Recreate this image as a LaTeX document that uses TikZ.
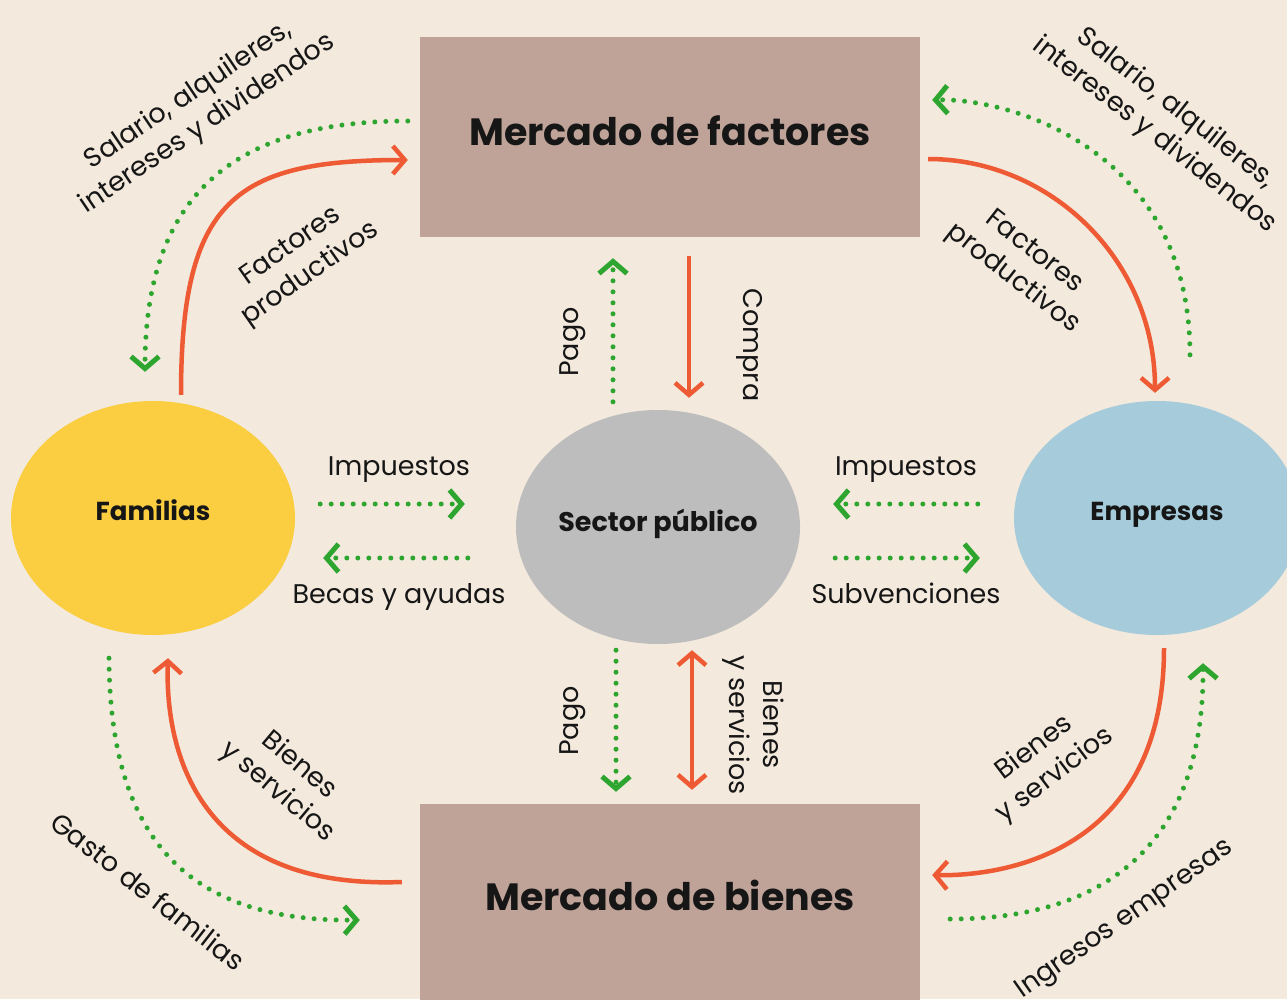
\documentclass[tikz,border=0pt]{standalone}
\usepackage{fontspec}
\setmainfont{Poppins}
\usetikzlibrary{arrows.meta,shapes.geometric,calc}

\definecolor{fondo}{HTML}{F3E9DD}
\definecolor{caja}{HTML}{BFA398}
\definecolor{amarillo}{HTML}{FACE40}
\definecolor{gris}{HTML}{BDBDBD}
\definecolor{azul}{HTML}{A6CBDA}
\definecolor{naranja}{HTML}{EE5A34}
\definecolor{verde}{HTML}{2EA52E}
\definecolor{tinta}{HTML}{161616}

\tikzset{
  mercado/.style={rectangle, fill=caja, minimum width=500pt, minimum height=200pt, inner sep=0pt,
                  text=tinta, font=\fontsize{38}{44}\selectfont\bfseries},
  agente/.style={ellipse, minimum width=284pt, minimum height=234pt, inner sep=0pt,
                 text=tinta, font=\fontsize{26}{30}\selectfont\bfseries},
  real/.style={draw=naranja, line width=4.5pt, -{Straight Barb[length=12pt,width=28pt]}},
  dinero/.style={draw=verde, line width=5pt, line cap=round, dash pattern=on 0pt off 11pt,
                 -{Straight Barb[length=12pt,width=28pt]}},
  rotulo/.style={font=\fontsize{27}{34}\selectfont, text=tinta, align=center, inner sep=0pt},
}

\begin{document}
\begin{tikzpicture}[x=1pt, y=-1pt]
    \fill[fondo] (0,0) rectangle (1287,999);
    \useasboundingbox (0,0) rectangle (1287,999);

    % mercados y agentes
    \node[mercado]                     (factores) at (670,137)  {\raisebox{12pt}{Mercado de factores}};
    \node[mercado]                     (bienes)   at (670,904)  {\raisebox{17pt}{Mercado de bienes}};
    \node[agente, fill=amarillo]       (fam)      at (153,518)  {\raisebox{15pt}{Familias}};
    \node[agente, fill=gris]           (sector)   at (658,527)  {\raisebox{13pt}{\fontsize{27}{30}\selectfont Sector público}};
    \node[agente, fill=azul, minimum width=286pt] (emp) at (1157,518) {\raisebox{13pt}{Empresas}};

    % flujos reales
    \draw[real] ($(fam.north)+(28,-6)$) .. controls +(0,-195) and +(-173,0) .. ($(factores.west)+(-12,23)$);
    \draw[real] ($(factores.east)+(8,22)$) .. controls +(122,0) and +(0,-133) .. ($(emp.north)+(-2,-8)$);
    \draw[real] ($(factores.south)+(19,19)$) -- ($(sector.north)+(31,-12)$);
    \draw[real, {Straight Barb[length=12pt,width=28pt]}-{Straight Barb[length=12pt,width=28pt]}]
                ($(sector.south)+(34,6)$) -- ($(bienes.north)+(22,-14)$);
    \draw[real] ($(bienes.west)+(-18,-22)$) .. controls +(-212,8) and +(-3,82) .. ($(fam.south)+(15,23)$);
    \draw[real] ($(emp.south)+(7,13)$) .. controls +(0,222) and +(43,1) .. ($(bienes.east)+(12,-29)$);

    % flujos monetarios
    \draw[dinero] ($(factores.west)+(-12,-16)$) .. controls +(-168,0) and +(0,-182) .. ($(fam.north)+(-8,-29)$);
    \draw[dinero] ($(emp.north)+(33,-46)$) .. controls +(0,-205) and +(78,-2) .. ($(factores.east)+(12,-37)$);
    \draw[dinero] ($(sector.north)+(-45,-8)$) -- ($(factores.south)+(-57,21)$);
    \draw[dinero] ($(sector.south)+(-42,6)$) -- ($(bienes.north)+(-54,-12)$);
    \draw[dinero] ($(fam.east)+(25,-14)$) -- ($(sector.west)+(-51,-23)$);
    \draw[dinero] ($(sector.west)+(-48,31)$) -- ($(fam.east)+(28,40)$);
    \draw[dinero] ($(emp.west)+(-36,-14)$) -- ($(sector.east)+(33,-23)$);
    \draw[dinero] ($(sector.east)+(35,31)$) -- ($(emp.west)+(-34,40)$);
    \draw[dinero] ($(fam.south)+(-44,23)$) .. controls +(1,172) and +(-180,2) .. ($(bienes.west)+(-60,16)$);
    \draw[dinero] ($(bienes.east)+(30,15)$) .. controls +(170,0) and +(1,167) .. ($(emp.south)+(46,28)$);

    % rotulos
    \node[rotulo, rotate=34]  (salizq)    at (198,110)  {Salario, alquileres,\\intereses y dividendos};
    \node[rotulo, rotate=35]  (facizq)    at (301,261)  {Factores\\productivos};
    \node[rotulo, rotate=-38] (salder)    at (1165,122) {Salario, alquileres,\\intereses y dividendos};
    \node[rotulo, rotate=-38] (facder)    at (1023,266) {Factores\\productivos};
    \node[rotulo, rotate=90]  (pagoarr)   at (573,342)  {Pago};
    \node[rotulo, rotate=-90] (compra)    at (750,345)  {Compra};
    \node[rotulo, anchor=base] (impizq)   at (399,475)  {Impuestos};
    \node[rotulo, anchor=base] (becas)    at (399,603)  {Becas y ayudas};
    \node[rotulo, anchor=base] (impder)   at (906,475)  {Impuestos};
    \node[rotulo, anchor=base] (subv)     at (906,603)  {Subvenciones};
    \node[rotulo, rotate=90]  (pagoab)    at (573,721)  {Pago};
    \node[rotulo, rotate=-90] (bienescen) at (753,725)  {Bienes\\y servicios};
    \node[rotulo, rotate=-40] (bienesizq) at (288,779)  {Bienes\\y servicios};
    \node[rotulo, rotate=-38] (gasto)     at (148,891)  {Gasto de familias};
    \node[rotulo, rotate=37]  (bienesder) at (1045,762) {Bienes\\y servicios};
    \node[rotulo, rotate=35]  (ingresos)  at (1125,920) {Ingresos empresas};
\end{tikzpicture}
\end{document}
